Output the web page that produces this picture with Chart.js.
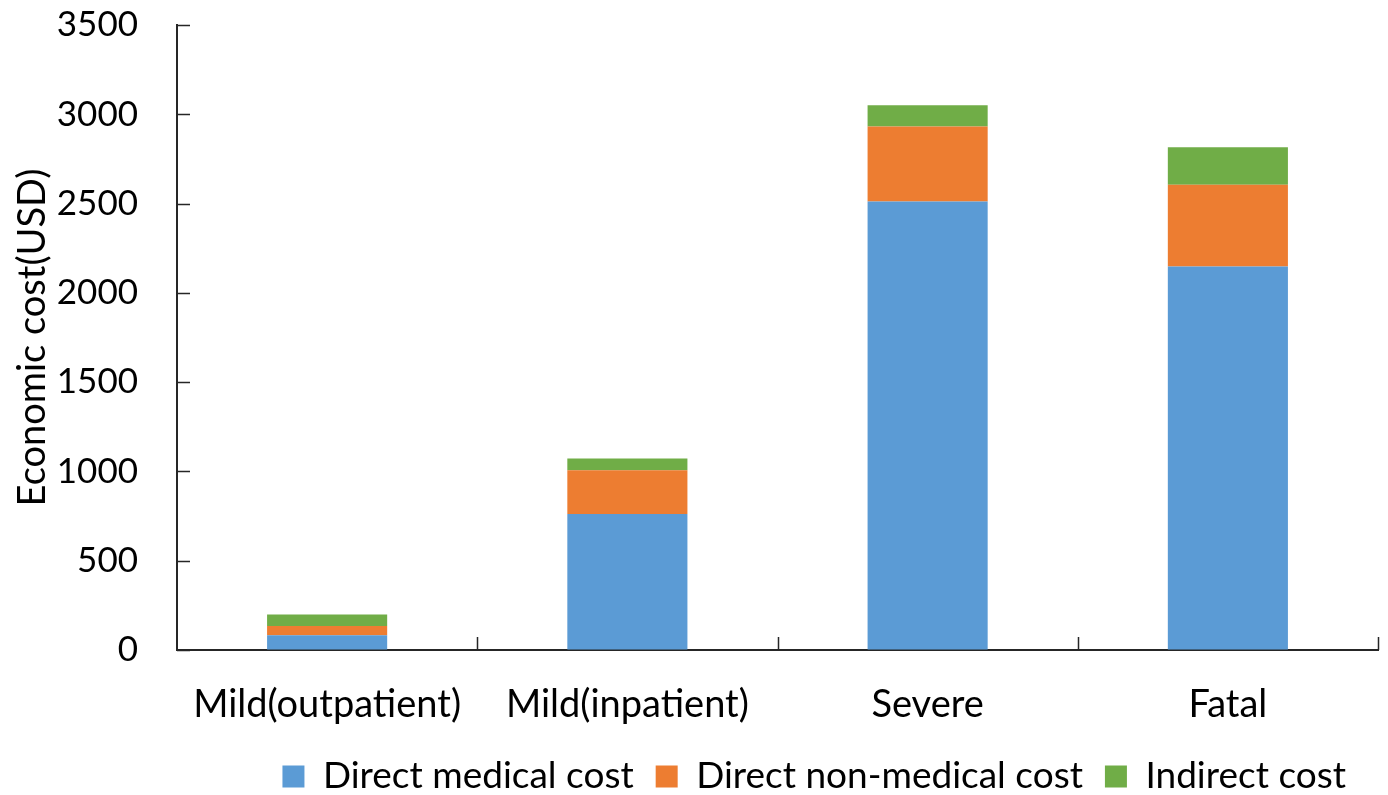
<!DOCTYPE html>
<html>
<head>
<meta charset="utf-8">
<script src="https://cdn.jsdelivr.net/npm/chart.js@4"></script>
<style>
html,body{margin:0;padding:0;background:#fff;}
#wrap{width:1388px;height:795px;}
</style>
</head>
<body>
<div id="wrap"><canvas id="c" width="1388" height="795"></canvas></div>
<script>
const categories = ["Mild(outpatient)", "Mild(inpatient)", "Severe", "Fatal"];
const directMedical = [83, 761, 2511, 2147];
const directNonMedical = [51, 246, 420, 459];
const indirectCost = [65, 66, 119, 210];
const seriesNames = ["Direct medical cost", "Direct non-medical cost", "Indirect cost"];
const yTicks = [0, 500, 1000, 1500, 2000, 2500, 3000, 3500];

const FONT = "Lato";
const AXIS = "#262626";
const CLEAR = "rgba(0,0,0,0)";

const innerTicks = {
  id: "innerTicks",
  afterLayout(chart) {
    const lg = chart.legend;
    if (lg) { lg.top += 10; lg.bottom += 10; lg.right -= 10; }
  },
  afterDatasetsDraw(chart) {
    const ctx = chart.ctx;
    const x = chart.scales.x, y = chart.scales.y;
    ctx.save();
    ctx.strokeStyle = AXIS;
    ctx.lineWidth = 1.5;
    ctx.beginPath();
    yTicks.forEach(v => {
      const py = Math.round(y.getPixelForValue(v)) + 0.5;
      ctx.moveTo(x.left, py);
      ctx.lineTo(x.left + 13, py);
    });
    for (let i = 0; i < categories.length; i++) {
      const px = Math.round(x.getPixelForValue(i + 0.5)) + 0.5;
      ctx.moveTo(px, y.bottom);
      ctx.lineTo(px, y.bottom - 13);
    }
    ctx.stroke();
    ctx.restore();
  }
};

new Chart(document.getElementById("c"), {
  type: "bar",
  data: {
    labels: categories,
    datasets: [
      { label: seriesNames[0], data: directMedical, backgroundColor: "#5B9BD5" },
      { label: seriesNames[1], data: directNonMedical, backgroundColor: "#ED7D31" },
      { label: seriesNames[2], data: indirectCost, backgroundColor: "#70AD47" }
    ]
  },
  options: {
    responsive: false,
    animation: false,
    devicePixelRatio: 1,
    layout: { padding: { left: 10, right: 10, top: 25, bottom: 0 } },
    datasets: { bar: { barPercentage: 0.4, categoryPercentage: 1.0 } },
    plugins: {
      tooltip: { enabled: false },
      legend: {
        position: "bottom",
        align: "end",
        labels: {
          font: { family: FONT, size: 37 },
          color: "#000",
          boxWidth: 22,
          boxHeight: 22,
          padding: 22
        }
      }
    },
    scales: {
      x: {
        stacked: true,
        afterFit(s) { s.height = 76; },
        grid: { display: true, drawOnChartArea: false, drawTicks: true, tickLength: 32, tickColor: CLEAR, color: CLEAR },
        border: { display: true, color: AXIS, width: 2 },
        ticks: { font: { family: FONT, size: 38 }, color: "#000", padding: 0, maxRotation: 0 }
      },
      y: {
        stacked: true,
        min: 0,
        max: 3500,
        afterFit(s) { s.width = 167; },
        afterBuildTicks(s) { s.ticks = yTicks.map(v => ({ value: v })); },
        grid: { display: true, drawOnChartArea: false, drawTicks: true, tickLength: 39, tickColor: CLEAR, color: CLEAR },
        border: { display: true, color: AXIS, width: 2 },
        ticks: {
          font: { family: FONT, size: 35 },
          color: "#000",
          padding: 0,
          callback: v => String(v)
        },
        title: {
          display: true,
          text: "Economic cost(USD)",
          font: { family: FONT, size: 38 },
          color: "#000",
          padding: { top: 0, bottom: 0 }
        }
      }
    }
  },
  plugins: [innerTicks]
});
</script>
</body>
</html>
